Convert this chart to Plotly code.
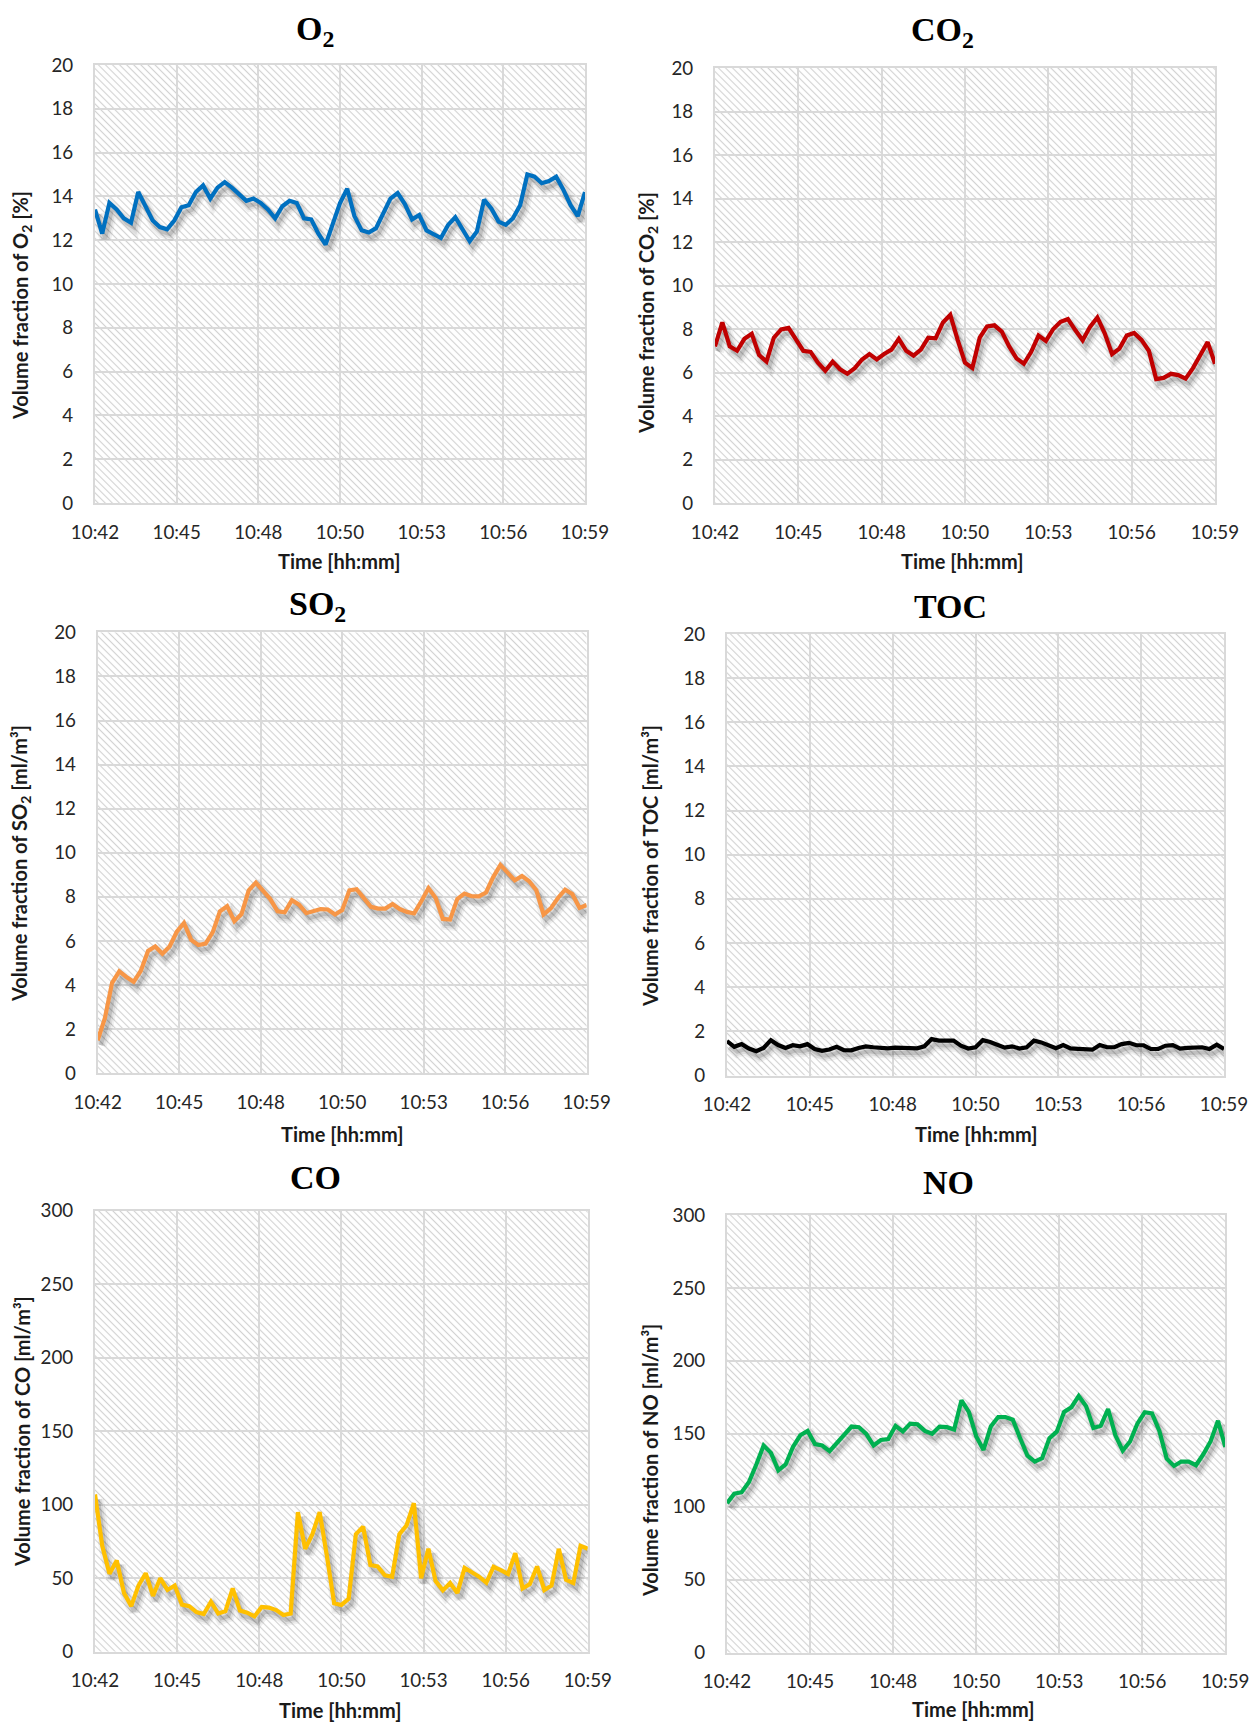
import base64
import numpy as np
import plotly.graph_objects as go

# ---------------- data (15 s sampling) ----------------
TIME_LABELS = ["10:42", "10:45", "10:48", "10:50", "10:53", "10:56", "10:59"]
SAMPLE_SECONDS = 15

O2 = [13.4, 12.3, 13.7, 13.4, 13.0, 12.8, 14.2, 13.6, 12.9, 12.6,
      12.5, 12.9, 13.5, 13.6, 14.2, 14.5, 13.9, 14.4, 14.65, 14.4,
      14.1, 13.8, 13.9, 13.7, 13.4, 13.0, 13.55, 13.8, 13.7, 13.0,
      12.95, 12.3, 11.8, 12.7, 13.7, 14.35, 13.1, 12.45, 12.35, 12.55,
      13.2, 13.9, 14.15, 13.65, 12.95, 13.15, 12.45, 12.25, 12.1, 12.7,
      13.05, 12.5, 11.95, 12.4, 13.85, 13.45, 12.85, 12.7, 13.0, 13.6,
      15.0, 14.9, 14.6, 14.7, 14.9, 14.3, 13.6, 13.1, 14.2]

CO2 = [7.2, 8.3, 7.2, 7.0, 7.55, 7.78, 6.8, 6.5, 7.6, 7.98,
       8.05, 7.5, 7.0, 6.95, 6.45, 6.08, 6.5, 6.15, 5.94, 6.2,
       6.6, 6.85, 6.6, 6.85, 7.05, 7.55, 7.0, 6.78, 7.05, 7.6,
       7.57, 8.3, 8.65, 7.5, 6.45, 6.21, 7.6, 8.12, 8.17, 7.88,
       7.2, 6.65, 6.4, 6.95, 7.7, 7.45, 8.0, 8.33, 8.46, 7.95,
       7.48, 8.1, 8.53, 7.8, 6.85, 7.1, 7.7, 7.82, 7.5, 7.0,
       5.7, 5.75, 5.94, 5.88, 5.72, 6.2, 6.85, 7.4, 6.4]

SO2 = [1.5, 2.5, 4.1, 4.62, 4.37, 4.15, 4.65, 5.55, 5.75, 5.42,
       5.75, 6.42, 6.82, 6.05, 5.82, 5.88, 6.4, 7.35, 7.58, 6.9,
       7.22, 8.3, 8.65, 8.25, 7.9, 7.35, 7.3, 7.85, 7.65, 7.26,
       7.35, 7.45, 7.43, 7.2, 7.4, 8.3, 8.35, 7.95, 7.55, 7.47,
       7.47, 7.68, 7.45, 7.32, 7.25, 7.8, 8.4, 7.95, 7.0, 6.97,
       7.9, 8.15, 8.03, 8.02, 8.2, 8.9, 9.45, 9.1, 8.75, 8.95,
       8.71, 8.3, 7.2, 7.48, 7.95, 8.33, 8.13, 7.5, 7.63]

TOC = [1.56, 1.3, 1.42, 1.22, 1.1, 1.25, 1.6, 1.38, 1.25, 1.37,
       1.32, 1.42, 1.2, 1.12, 1.18, 1.3, 1.15, 1.14, 1.25, 1.32,
       1.28, 1.26, 1.23, 1.26, 1.25, 1.2, 1.23, 1.32, 1.65, 1.58,
       1.56, 1.58, 1.35, 1.22, 1.28, 1.6, 1.52, 1.38, 1.26, 1.32,
       1.22, 1.28, 1.58, 1.5, 1.38, 1.24, 1.38, 1.23, 1.21, 1.19,
       1.17, 1.38, 1.28, 1.28, 1.42, 1.48, 1.37, 1.37, 1.2, 1.2,
       1.35, 1.38, 1.22, 1.25, 1.26, 1.28, 1.2, 1.4, 1.2]

CO = [107, 72, 53, 62, 40, 31, 45, 53.4, 38, 50,
      42, 45, 32, 31, 27, 25.6, 34, 26, 27.6, 43,
      28, 26.5, 24, 30.5, 30, 28.3, 25, 26, 95, 70,
      80, 95, 65, 33, 31.8, 36, 80, 85, 59, 58,
      52, 51, 80, 86, 101, 50, 70, 48, 41.7, 46.7,
      40, 57, 54, 51, 47, 57.8, 55.5, 52.9, 67, 43,
      46, 58, 42, 45, 70, 49, 46.7, 72, 70]

NO = [102.5, 109, 110, 117, 129, 142, 137, 125, 129, 141,
      149, 152, 143, 142, 138.2, 144, 150, 155, 154.5, 150,
      142, 145.8, 146.5, 155.5, 151.6, 157, 156.5, 152, 150.1, 155,
      154.6, 153, 173, 165, 148.4, 139, 155, 161.5, 161.5, 159.7,
      147, 135, 131, 133.3, 147, 151.5, 165, 168.3, 176, 169,
      154, 155.5, 167, 149, 138.5, 144.8, 157, 164.8, 164, 152,
      133, 128, 131, 131, 128.5, 136, 145, 159, 141]

# ---------------- layout configuration ----------------
PAGE_W, PAGE_H = 1258, 1722
BODY_MARGIN = 8  # default page margin around the plot div
FIG_W, FIG_H = PAGE_W - BODY_MARGIN, PAGE_H - BODY_MARGIN
SANS = "Lato, 'Open Sans', sans-serif"
SERIF = "'Liberation Serif', 'DejaVu Serif', serif"
GRID = "#d9d9d9"
TICK_SIZE = 18.8
AXTITLE_SIZE = 20
TITLE_SIZE = 34

# boxes and text anchors are given in page pixels
PANELS = [
    dict(series=O2, color="#0070C0", ymax=20, dtick=2, title="O<sub>2</sub>",
         ytitle="Volume fraction of O<sub>2</sub> [%]",
         box=(95, 65, 585, 503), title_xy=(315, 31), ytitle_xy=(21, 306), xtitle_xy=(339, 561)),
    dict(series=CO2, color="#C00000", ymax=20, dtick=2, title="CO<sub>2</sub>",
         ytitle="Volume fraction of CO<sub>2</sub> [%]",
         box=(715, 68, 1215, 503), title_xy=(942, 32), ytitle_xy=(648, 313), xtitle_xy=(962, 561)),
    dict(series=SO2, color="#F79646", ymax=20, dtick=2, title="SO<sub>2</sub>",
         ytitle="Volume fraction of SO<sub>2</sub> [ml/m³]",
         box=(97.7, 632.3, 586.7, 1073.3), title_xy=(317, 606), ytitle_xy=(21, 864), xtitle_xy=(342, 1134)),
    dict(series=TOC, color="#000000", ymax=20, dtick=2, title="TOC",
         ytitle="Volume fraction of TOC [ml/m³]",
         box=(727, 634, 1224, 1075.5), title_xy=(950, 607), ytitle_xy=(650, 866), xtitle_xy=(976, 1134)),
    dict(series=CO, color="#FFC000", ymax=300, dtick=50, title="CO",
         ytitle="Volume fraction of CO [ml/m³]",
         box=(95, 1210.7, 587.8, 1651.7), title_xy=(315, 1177), ytitle_xy=(22, 1432), xtitle_xy=(340, 1710)),
    dict(series=NO, color="#00B050", ymax=300, dtick=50, title="NO",
         ytitle="Volume fraction of NO [ml/m³]",
         box=(727, 1215, 1225.3, 1652.7), title_xy=(948, 1182), ytitle_xy=(650, 1460), xtitle_xy=(973, 1709)),
]

SHADOW_DX, SHADOW_DY = 3, 5  # pixels


def hatch_uri(w, h):
    w, h = int(round(w)), int(round(h))
    svg = (
        f"<svg xmlns='http://www.w3.org/2000/svg' width='{w}' height='{h}' viewBox='0 0 {w} {h}'>"
        "<defs><pattern id='p' width='5' height='5' patternUnits='userSpaceOnUse' "
        "patternTransform='rotate(-45)'>"
        "<rect width='5' height='5' fill='#ffffff'/>"
        "<line x1='2.5' y1='0' x2='2.5' y2='5' stroke='#d2d2d2' stroke-width='1.1'/>"
        "</pattern></defs>"
        f"<rect width='{w}' height='{h}' fill='url(#p)'/></svg>"
    )
    return "data:image/svg+xml;base64," + base64.b64encode(svg.encode()).decode()


def px(x):
    return (x - BODY_MARGIN) / FIG_W


def py(y):
    return 1 - (y - BODY_MARGIN) / FIG_H


fig = go.Figure()
layout = dict(
    template="none",
    width=FIG_W, height=FIG_H, margin=dict(l=0, r=0, t=0, b=0, pad=0, autoexpand=False),
    paper_bgcolor="white", plot_bgcolor="rgba(0,0,0,0)",
    showlegend=False, hovermode=False,
    images=[], annotations=[],
)

for k, p in enumerate(PANELS):
    vals = np.array(p["series"], dtype=float)
    n = len(vals)
    t = np.arange(n) * SAMPLE_SECONDS / 60.0  # minutes after 10:42
    tmax = t[-1]
    x0, y0, x1, y1 = p["box"]
    w, h = x1 - x0, y1 - y0
    dom_x = [px(x0), px(x1)]
    dom_y = [py(y1), py(y0)]

    base = 2 * k + 1
    over = 2 * k + 2
    bx, by = f"x{base}", f"y{base}"
    ox, oy = f"x{over}", f"y{over}"

    # soft drop shadow on hidden base axes whose ranges are shifted by a few pixels
    sx = SHADOW_DX * tmax / w
    sy = SHADOW_DY * p["ymax"] / h
    layout[f"xaxis{base}"] = dict(domain=dom_x, anchor=by, range=[-sx, tmax - sx],
                                  visible=False, automargin=False)
    layout[f"yaxis{base}"] = dict(domain=dom_y, anchor=bx, range=[sy, p["ymax"] + sy],
                                  visible=False, automargin=False)
    for width, alpha in [(12, 0.06), (8, 0.08), (4, 0.13)]:
        fig.add_trace(go.Scatter(x=t, y=vals, mode="lines", xaxis=bx, yaxis=by,
                                 line=dict(color=f"rgba(0,0,0,{alpha})", width=width)))

    # visible axes overlaying the base ones
    layout[f"xaxis{over}"] = dict(
        domain=dom_x, anchor=oy, overlaying=bx, range=[0, tmax], automargin=False,
        tickmode="array", tickvals=np.linspace(0, tmax, len(TIME_LABELS)), ticktext=TIME_LABELS,
        showgrid=True, gridcolor=GRID, gridwidth=2,
        showline=True, linecolor=GRID, linewidth=2, mirror=True,
        ticks="", ticklabelstandoff=11, zeroline=False,
        tickfont=dict(family=SANS, size=TICK_SIZE, color="#262626"),
    )
    layout[f"yaxis{over}"] = dict(
        domain=dom_y, anchor=ox, overlaying=by, range=[0, p["ymax"]], dtick=p["dtick"],
        tick0=0, automargin=False, showgrid=True, gridcolor=GRID, gridwidth=2,
        showline=True, linecolor=GRID, linewidth=2, mirror=True,
        ticks="", ticklabelstandoff=16, zeroline=False,
        tickfont=dict(family=SANS, size=TICK_SIZE, color="#262626"),
    )
    fig.add_trace(go.Scatter(x=t, y=vals, mode="lines", xaxis=ox, yaxis=oy,
                             line=dict(color=p["color"], width=4.2)))

    # hatched plot-area background
    layout["images"].append(dict(
        source=hatch_uri(w, h), xref="paper", yref="paper",
        x=px(x0), y=py(y0), sizex=w / FIG_W, sizey=h / FIG_H,
        xanchor="left", yanchor="top", sizing="stretch", layer="below",
    ))

    # chart title, axis titles
    tx, ty = p["title_xy"]
    layout["annotations"].append(dict(
        text=f"<b>{p['title']}</b>", xref="paper", yref="paper", x=px(tx), y=py(ty),
        xanchor="center", yanchor="middle", showarrow=False,
        font=dict(family=SERIF, size=TITLE_SIZE, color="#000000"),
    ))
    yx, yy = p["ytitle_xy"]
    layout["annotations"].append(dict(
        text=f"<b>{p['ytitle']}</b>", xref="paper", yref="paper", x=px(yx), y=py(yy),
        xanchor="center", yanchor="middle", showarrow=False, textangle=-90,
        font=dict(family=SANS, size=AXTITLE_SIZE, color="#1a1a1a"),
    ))
    xx, xy = p["xtitle_xy"]
    layout["annotations"].append(dict(
        text="<b>Time [hh:mm]</b>", xref="paper", yref="paper", x=px(xx), y=py(xy),
        xanchor="center", yanchor="middle", showarrow=False,
        font=dict(family=SANS, size=AXTITLE_SIZE, color="#1a1a1a"),
    ))

fig.update_layout(**layout)
fig.write_html("out.html")
